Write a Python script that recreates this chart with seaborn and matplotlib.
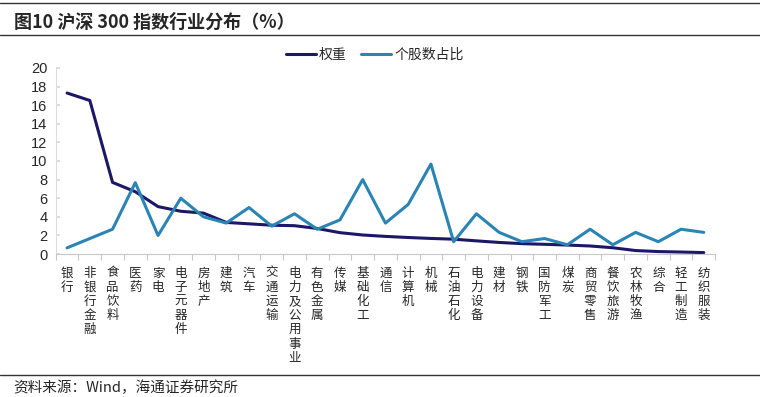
import matplotlib
matplotlib.use("Agg")
import matplotlib.pyplot as plt
import seaborn as sns
import pandas as pd
from matplotlib.lines import Line2D

categories = ["银行", "非银行金融", "食品饮料", "医药", "家电", "电子元器件", "房地产", "建筑",
              "汽车", "交通运输", "电力及公用事业", "有色金属", "传媒", "基础化工", "通信",
              "计算机", "机械", "石油石化", "电力设备", "建材", "钢铁", "国防军工", "煤炭",
              "商贸零售", "餐饮旅游", "农林牧渔", "综合", "轻工制造", "纺织服装"]
weight = [17.3, 16.5, 7.7, 6.7, 5.1, 4.6, 4.4, 3.4, 3.25, 3.1, 3.05, 2.75, 2.3, 2.05, 1.9,
          1.78, 1.68, 1.6, 1.42, 1.25, 1.12, 1.05, 0.97, 0.87, 0.68, 0.38, 0.27, 0.22, 0.16]
share = [0.67, 1.67, 2.67, 7.67, 2.0, 6.0, 4.0, 3.33, 5.0, 3.0, 4.33, 2.67, 3.67, 8.0, 3.33,
         5.33, 9.67, 1.33, 4.33, 2.33, 1.33, 1.67, 1.0, 2.67, 1.0, 2.33, 1.33, 2.67, 2.33]
series_names = ["权重", "个股数占比"]
yticks = list(range(0, 21, 2))

sns.set_theme(style="white")
plt.rcParams['font.family'] = ['Noto Sans CJK SC', 'DejaVu Sans']

c_weight = "#1C1766"
c_share = "#2A84B4"

df = pd.DataFrame({"x": list(range(len(categories))) * 2,
                   "value": weight + share,
                   "series": [series_names[0]] * len(weight) + [series_names[1]] * len(share)})

fig = plt.figure(figsize=(7.6, 3.97), dpi=100)
ax = fig.add_axes([0.0733, 0.360, 0.8677, 0.469])
sns.lineplot(data=df, x="x", y="value", hue="series", palette=[c_weight, c_share],
             ax=ax, linewidth=2.2, legend=False)

ax.set_xlim(-0.5, len(categories) - 0.5)
ax.set_ylim(0, 20)
ax.set_yticks(yticks)
ax.set_yticklabels([str(v) for v in yticks], family=['Liberation Sans'], fontsize=10.5)
ax.set_xticks(range(len(categories)))
ax.set_xticklabels(["\n".join(c) for c in categories], fontsize=9, va="top",
                   linespacing=1.12)
ax.set_xticks([i - 0.5 for i in range(len(categories) + 1)], minor=True)
ax.tick_params(axis="x", which="major", length=0, pad=9)
ax.tick_params(axis="x", which="minor", length=4, color="#C8C8C8", width=0.8, direction="out", bottom=True)
ax.tick_params(axis="y", length=3, color="#D8D8D8", direction="in", left=True, pad=6)
ax.set_xlabel("")
ax.set_ylabel("")
for s in ["top", "right"]:
    ax.spines[s].set_visible(False)
ax.spines["left"].set_color("#DCDCDC")
ax.spines["bottom"].set_color("#C8C8C8")
ax.spines["left"].set_linewidth(0.8)
ax.spines["bottom"].set_linewidth(0.8)

handles = [Line2D([0], [0], color=c_weight, lw=2.2), Line2D([0], [0], color=c_share, lw=2.2)]
fig.legend(handles, series_names, loc="center", bbox_to_anchor=(0.493, 0.862), ncol=2,
           frameon=False, fontsize=10, handlelength=2.2, handletextpad=0.2, columnspacing=1.0)

fig.text(0.018, 0.945, "图10 沪深 300 指数行业分布（%）", fontsize=13, fontweight="bold",
         va="center", ha="left")
fig.add_artist(Line2D([0, 1], [0.993, 0.993], color="#333333", lw=1.0, transform=fig.transFigure))
fig.add_artist(Line2D([0, 1], [0.911, 0.911], color="#333333", lw=1.0, transform=fig.transFigure))
fig.add_artist(Line2D([0, 1], [0.055, 0.055], color="#333333", lw=1.0, transform=fig.transFigure))
fig.text(0.018, 0.024, "资料来源：Wind，海通证券研究所", fontsize=10.5, va="center", ha="left")

fig.savefig("out.png", dpi=100)
